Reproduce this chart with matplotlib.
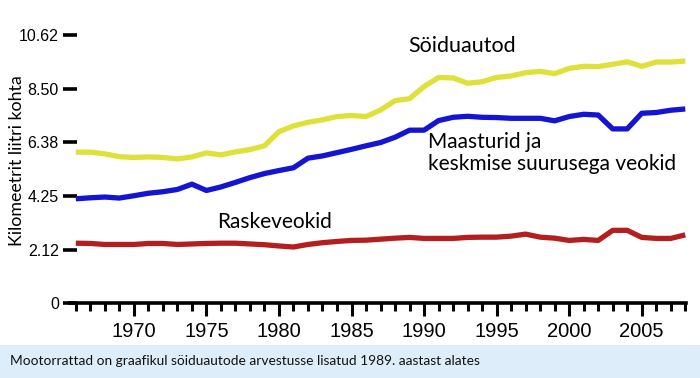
import matplotlib
matplotlib.use("Agg")
import matplotlib.pyplot as plt
from matplotlib.patches import Rectangle
from matplotlib.ticker import MultipleLocator

years = list(range(1966, 2009))
cars = [5.98, 5.98, 5.91, 5.80, 5.77, 5.79, 5.77, 5.71, 5.79, 5.95,
        5.87, 5.99, 6.08, 6.23, 6.79, 7.02, 7.16, 7.26, 7.39, 7.43,
        7.39, 7.65, 8.02, 8.10, 8.58, 8.94, 8.92, 8.71, 8.77, 8.94,
        9.00, 9.13, 9.18, 9.09, 9.30, 9.38, 9.37, 9.46, 9.56, 9.38,
        9.55, 9.55, 9.59]
suv = [4.13, 4.17, 4.20, 4.16, 4.25, 4.35, 4.41, 4.50, 4.71, 4.46,
       4.60, 4.78, 4.97, 5.13, 5.25, 5.36, 5.74, 5.83, 5.96, 6.09,
       6.23, 6.36, 6.57, 6.85, 6.85, 7.23, 7.36, 7.40, 7.36, 7.35,
       7.32, 7.32, 7.32, 7.22, 7.39, 7.48, 7.45, 6.90, 6.90, 7.52,
       7.55, 7.64, 7.69]
heavy = [2.37, 2.36, 2.32, 2.32, 2.32, 2.36, 2.36, 2.32, 2.34, 2.36,
         2.37, 2.37, 2.34, 2.31, 2.26, 2.22, 2.32, 2.39, 2.44, 2.48,
         2.49, 2.53, 2.57, 2.60, 2.56, 2.56, 2.56, 2.60, 2.61, 2.61,
         2.65, 2.73, 2.61, 2.57, 2.48, 2.52, 2.48, 2.88, 2.88, 2.60,
         2.56, 2.56, 2.70]
yticks = [0, 2.12, 4.25, 6.38, 8.50, 10.62]
ytick_labels = ["0", "2.12", "4.25", "6.38", "8.50", "10.62"]
xticks = [1970, 1975, 1980, 1985, 1990, 1995, 2000, 2005]

label_font = ["Lato", "DejaVu Sans"]
narrow_font = ["Liberation Sans Narrow", "Liberation Sans", "DejaVu Sans"]

fig = plt.figure(figsize=(7, 3.78), dpi=100)
fig.patch.set_facecolor("white")

# footer band
fig.patches.append(Rectangle((0, 0), 1, 33 / 378, transform=fig.transFigure,
                             facecolor="#ddeefa", edgecolor="none", zorder=0))
fig.text(10 / 700, 17 / 378, "Mootorrattad on graafikul söiduautode arvestusse lisatud 1989. aastast alates",
         fontsize=9.9, family=label_font, color="#111111", va="center", ha="left")

ax = fig.add_axes([70 / 700, 75 / 378, 616 / 700, 273 / 378])
ax.plot(years, cars, color="#dfe03a", lw=3.8, solid_capstyle="butt", solid_joinstyle="round")
ax.plot(years, suv, color="#1414d2", lw=3.8, solid_capstyle="butt", solid_joinstyle="round")
ax.plot(years, heavy, color="#b41e1e", lw=3.8, solid_capstyle="butt", solid_joinstyle="round")

ax.set_xlim(1965.6, 2008.05)
ax.set_ylim(0, 10.82)

for s in ["top", "right", "left"]:
    ax.spines[s].set_visible(False)
ax.spines["bottom"].set_linewidth(2.6)
ax.spines["bottom"].set_color("black")

ax.set_yticks(yticks)
ax.set_yticklabels(ytick_labels, family=narrow_font, fontsize=11.5)
ax.tick_params(axis="y", direction="inout", length=10, width=2.6, color="black", pad=3)

ax.set_xticks(xticks)
ax.set_xticklabels([str(x) for x in xticks], family=["Liberation Sans", "DejaVu Sans"], fontsize=14.5)
ax.xaxis.set_minor_locator(MultipleLocator(1))
ax.tick_params(axis="x", which="major", direction="out", length=9, width=2.2, pad=5)
ax.tick_params(axis="x", which="minor", direction="out", length=6, width=2.2)

fig.text(17 / 700, 1 - 161 / 378, "Kilomeetrit liitri kohta", family=label_font, fontsize=12.8,
         rotation=90, va="center", ha="center")

ax.text(1988.9, 10.18, "Söiduautod", family=label_font, fontsize=15.5, va="center", ha="left")
ax.text(1990.3, 6.38, "Maasturid ja", family=label_font, fontsize=15, va="center", ha="left")
ax.text(1990.3, 5.5, "keskmise suurusega veokid", family=label_font, fontsize=15, va="center", ha="left")
ax.text(1975.75, 3.2, "Raskeveokid", family=label_font, fontsize=15, va="center", ha="left")

fig.savefig("out.png", dpi=100)
